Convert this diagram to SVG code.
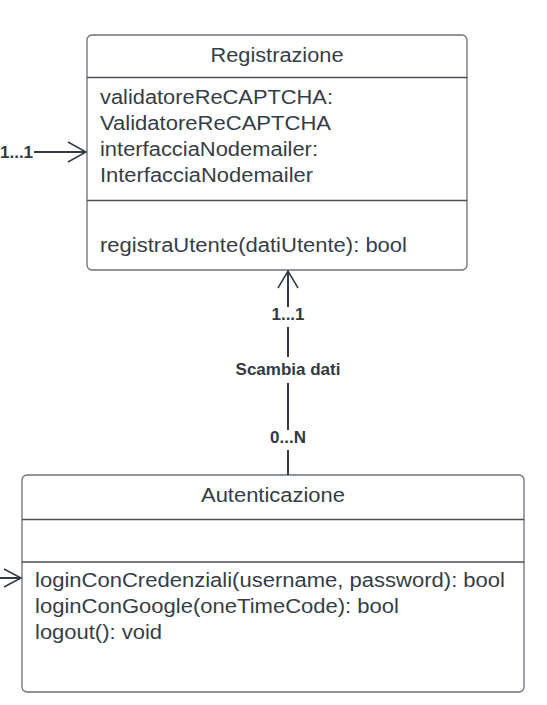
<svg xmlns="http://www.w3.org/2000/svg" width="547" height="705" viewBox="0 0 547 705">
<defs>
<style>
.box{fill:#ffffff;stroke:#6b717a;stroke-width:1.3}
.div{stroke:#4a5058;stroke-width:1.3;fill:none}
.t{font-family:"Liberation Sans",Arial,sans-serif;font-size:20px;fill:#363d47}
.c{text-anchor:middle}
.lbl{font-family:"Liberation Sans",Arial,sans-serif;font-size:17px;font-weight:bold;fill:#333a44}
.ln{stroke:#333a44;stroke-width:2;fill:none}
.ah{stroke:#333a44;stroke-width:1.5;fill:none}
</style>
</defs>
<rect width="547" height="705" fill="#ffffff"/>
<g id="registrazione">
<rect class="box" x="87" y="35" width="380" height="235" rx="5"/>
<line class="div" x1="87" y1="77.5" x2="467" y2="77.5"/>
<line class="div" x1="87" y1="200.5" x2="467" y2="200.5"/>
<text class="t c" x="277" y="61.5" textLength="133" lengthAdjust="spacingAndGlyphs">Registrazione</text>
<text class="t" x="100" y="104" textLength="233" lengthAdjust="spacingAndGlyphs">validatoreReCAPTCHA:</text>
<text class="t" x="100" y="130" textLength="231" lengthAdjust="spacingAndGlyphs">ValidatoreReCAPTCHA</text>
<text class="t" x="100" y="156" textLength="218" lengthAdjust="spacingAndGlyphs">interfacciaNodemailer:</text>
<text class="t" x="100" y="182" textLength="213" lengthAdjust="spacingAndGlyphs">InterfacciaNodemailer</text>
<text class="t" x="100" y="252" textLength="307" lengthAdjust="spacingAndGlyphs">registraUtente(datiUtente): bool</text>
</g>
<g id="autenticazione">
<rect class="box" x="22" y="475" width="502" height="217" rx="5"/>
<line class="div" x1="22" y1="519.5" x2="524" y2="519.5"/>
<line class="div" x1="22" y1="562" x2="524" y2="562"/>
<text class="t c" x="273" y="502" textLength="144" lengthAdjust="spacingAndGlyphs">Autenticazione</text>
<text class="t" x="35" y="587" textLength="470" lengthAdjust="spacingAndGlyphs">loginConCredenziali(username, password): bool</text>
<text class="t" x="35" y="613" textLength="364" lengthAdjust="spacingAndGlyphs">loginConGoogle(oneTimeCode): bool</text>
<text class="t" x="35" y="639" textLength="127" lengthAdjust="spacingAndGlyphs">logout(): void</text>
</g>
<g id="connectors">
<line class="ln" x1="34" y1="152" x2="86" y2="152"/>
<polyline class="ah" points="68,142 86,152 68,162"/>
<text class="lbl" x="0" y="158">1...1</text>
<line class="ln" x1="0" y1="578" x2="21" y2="578"/>
<polyline class="ah" points="4,569 21,578 4,587"/>
<line class="ln" x1="288" y1="271" x2="288" y2="307"/>
<line class="ln" x1="288" y1="327" x2="288" y2="357"/>
<line class="ln" x1="288" y1="383" x2="288" y2="430"/>
<line class="ln" x1="288" y1="450" x2="288" y2="475"/>
<polyline class="ah" points="278,288 288,271 298,288"/>
<text class="lbl c" x="288" y="320">1...1</text>
<text class="lbl c" x="288" y="375">Scambia dati</text>
<text class="lbl c" x="288" y="443">0...N</text>
</g>
</svg>
